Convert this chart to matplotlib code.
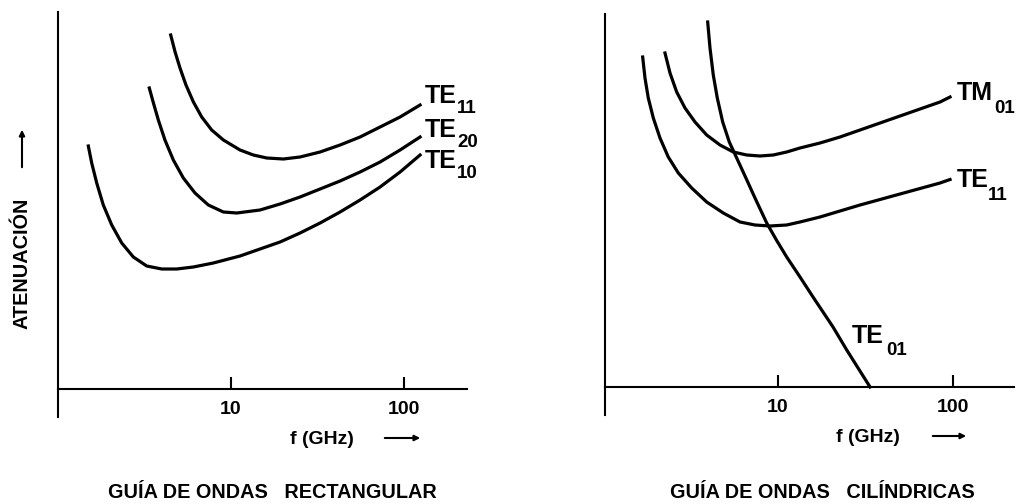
import matplotlib
matplotlib.use("Agg")
import matplotlib.pyplot as plt

plt.rcParams['font.family'] = ['Liberation Sans', 'DejaVu Sans']
plt.rcParams['font.weight'] = 'bold'

# --- data (f in GHz, attenuation in arbitrary units) ---
# rectangular guide
rect_te11_f = [4.48, 4.75, 5.07, 5.49, 6.06, 6.77, 7.73, 9.03, 11.27, 13.45, 16.08, 20.06,
               25.05, 32.70, 42.67, 55.68, 72.67, 94.83, 123.7]
rect_te11_a = [354, 337, 321, 304, 287, 272, 259, 249, 239, 234, 231, 230,
               232, 237, 244, 252, 262, 272, 284]
rect_te20_f = [3.37, 3.56, 3.80, 4.15, 4.64, 5.30, 6.19, 7.39, 9.03, 10.79, 14.71, 19.20,
               25.05, 32.70, 42.67, 55.68, 72.67, 94.83, 123.7]
rect_te20_a = [301, 286, 269, 249, 229, 211, 196, 184, 177, 176, 179, 185,
               192, 200, 208, 217, 227, 239, 252]
rect_te10_f = [1.497, 1.566, 1.674, 1.827, 2.044, 2.335, 2.725, 3.256, 3.976, 4.855, 6.055,
               7.90, 11.27, 14.71, 19.20, 25.05, 32.70, 42.67, 55.68, 72.67, 94.83, 123.7]
rect_te10_a = [243, 226, 206, 184, 164, 146, 132, 123, 120, 120, 122,
               126, 133, 140, 147, 156, 166, 177, 189, 202, 217, 234]

# cylindrical guide
cyl_te01_f = [3.965, 4.087, 4.268, 4.499, 4.831, 5.268, 5.808, 6.478, 7.389, 8.618, 9.83,
              11.21, 13.36, 15.85, 20.62, 24.70, 33.56]
cyl_te01_a = [365, 339, 312, 289, 265, 245, 229, 211, 189, 164, 146.5,
              130, 110, 90, 60, 37, 0]
cyl_tm01_f = [2.261, 2.415, 2.637, 2.942, 3.356, 3.913, 4.662, 5.554, 6.624, 7.892, 9.40,
              11.21, 13.35, 17.38, 22.61, 29.42, 38.28, 49.79, 64.78, 84.28, 96.14]
cyl_tm01_a = [334, 314, 295, 279, 265, 252, 242, 235, 232, 231, 232,
              235, 239, 244, 250, 257, 264, 271, 278, 285, 290]
cyl_te11_f = [1.686, 1.738, 1.815, 1.939, 2.117, 2.361, 2.694, 3.213, 3.913, 4.869, 6.066,
              7.389, 9.00, 11.21, 13.35, 17.38, 22.61, 29.42, 38.28, 49.79, 64.78, 84.28, 96.14]
cyl_te11_a = [330, 309, 289, 269, 249, 230, 214, 199, 185, 174, 165,
              162, 161, 162, 165, 170, 176, 182, 187.5, 193, 198.5, 204, 207.5]

tick_vals = [10, 100]
tick_labels = ["10", "100"]

W, H = 1021, 504


def fx(x):
    return x / W


def fy(y):
    return 1 - y / H


fig = plt.figure(figsize=(W / 100, H / 100), dpi=100)

ax1 = fig.add_axes([fx(58), fy(417), 409 / W, 405 / H])
ax2 = fig.add_axes([fx(605), fy(415), 409 / W, 401 / H])

for ax in (ax1, ax2):
    ax.set_xscale('log')
    ax.spines['top'].set_visible(False)
    ax.spines['right'].set_visible(False)
    ax.spines['bottom'].set_position(('data', 0))
    ax.spines['left'].set_linewidth(1.5)
    ax.spines['bottom'].set_linewidth(1.5)
    ax.set_xticks(tick_vals)
    ax.set_xticklabels(tick_labels, fontsize=14, fontweight='bold')
    ax.xaxis.set_minor_locator(matplotlib.ticker.NullLocator())
    ax.tick_params(axis='x', direction='in', length=8.6, width=1.5, pad=8.3)
    ax.set_yticks([])
    ax.set_facecolor('none')

ax1.set_xlim(1, 231)
ax1.set_ylim(-28, 377)
ax2.set_xlim(1.027, 223)
ax2.set_ylim(-28, 373)

lw = 2.3
for f, a in [(rect_te11_f, rect_te11_a), (rect_te20_f, rect_te20_a), (rect_te10_f, rect_te10_a)]:
    ax1.plot(f, a, color='black', lw=lw, solid_joinstyle='round')
for f, a in [(cyl_te01_f, cyl_te01_a), (cyl_tm01_f, cyl_tm01_a), (cyl_te11_f, cyl_te11_a)]:
    ax2.plot(f, a, color='black', lw=lw, solid_joinstyle='round')

# curve labels: (main, sub, x, baseline, sub x, sub baseline)
labels = [
    ("TE", "11", 425, 103, 457, 113),
    ("TE", "20", 425, 137, 457, 147),
    ("TE", "10", 425, 168, 457, 178),
    ("TM", "01", 957, 100, 994, 113),
    ("TE", "11", 957, 187, 988, 200),
    ("TE", "01", 852, 343, 886, 355),
]
for main, sub, x, yb, sx, syb in labels:
    fig.text(fx(x), fy(yb), main, fontsize=18, fontweight='bold', ha='left', va='baseline')
    fig.text(fx(sx), fy(syb), sub, fontsize=13.5, fontweight='bold', ha='left', va='baseline')

# axis labels and arrows
fig.text(fx(22), fy(263), "ATENUACIÓN", rotation=90, fontsize=14.3, fontweight='bold',
         ha='center', va='center')
fig.add_artist(matplotlib.patches.FancyArrowPatch(
    (fx(22), fy(170)), (fx(22), fy(127)), transform=fig.transFigure,
    arrowstyle='-|>', mutation_scale=8, lw=1.5, color='black'))

for cx, cy, a0, a1 in [(322, 440, 382, 423), (868, 438, 930, 969)]:
    fig.text(fx(cx), fy(cy), "f (GHz)", fontsize=14, fontweight='bold', ha='center', va='center')
    fig.add_artist(matplotlib.patches.FancyArrowPatch(
        (fx(a0), fy(cy - 2)), (fx(a1), fy(cy - 2)), transform=fig.transFigure,
        arrowstyle='-|>', mutation_scale=8, lw=1.5, color='black'))

fig.text(fx(272), fy(492), "GUÍA DE ONDAS   RECTANGULAR", fontsize=14.3, fontweight='bold',
         ha='center', va='center')
fig.text(fx(822), fy(492), "GUÍA DE ONDAS   CILÍNDRICAS", fontsize=14.3, fontweight='bold',
         ha='center', va='center')

fig.savefig("out.png", dpi=100)
